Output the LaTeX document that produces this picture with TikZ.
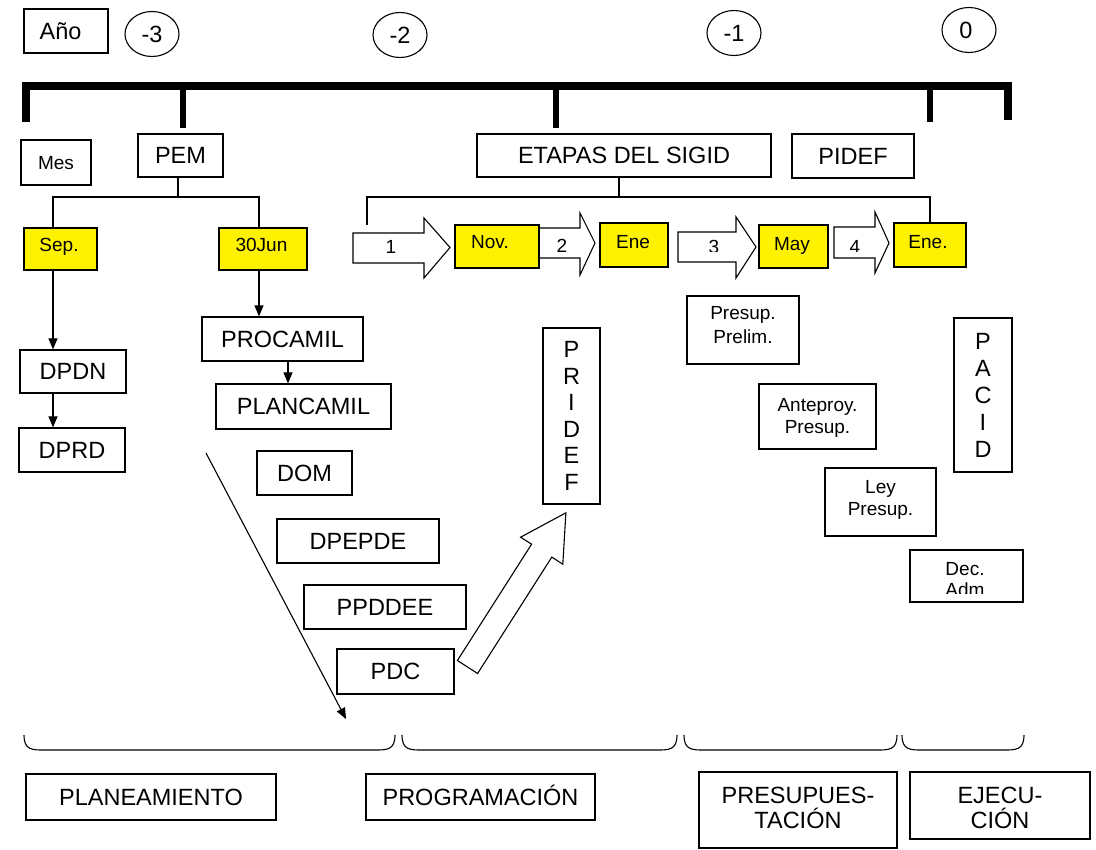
\documentclass[tikz,border=0pt]{standalone}
\usepackage{fontspec}
\setmainfont{Liberation Sans}
\usetikzlibrary{arrows.meta,shapes.geometric}
\newcommand\Fbig{\fontsize{23.5pt}{27pt}\selectfont}
\newcommand\Fsm{\fontsize{19pt}{23pt}\selectfont}
\begin{document}
\begin{tikzpicture}[x=1pt,y=-1pt,
  bx/.style={draw, line width=1.2pt, fill=white, inner sep=0pt},
  yb/.style={bx, fill=yellow},
  big/.style={font=\Fbig, text height=16.8pt, text depth=0pt},
  sm/.style={font=\Fsm, text height=13.6pt, text depth=0pt},
  txt/.style={inner sep=0pt},
  ov/.style={ellipse, draw, line width=1.1pt, minimum width=54pt, minimum height=45pt, inner sep=0pt},
  ln/.style={line width=1.1pt},
  arr/.style={ln, -{Triangle[length=11pt,width=9pt]}},
  blk/.style={draw, line width=1.1pt, fill=white, line join=miter},
  brc/.style={line width=1.1pt},
]
\useasboundingbox (0,0) rectangle (1096,850);

% header
\node[bx, big, minimum width=84pt, minimum height=44pt] (ano) at (66,31) {Año\hspace*{11pt}};
\node[ov, big] (e3) at (152,34) {-3};
\node[ov, big] (e2) at (400,35) {-2};
\node[ov, big] (e1) at (734,33) {-1};
\node[ov, big] (e0) at (969,30) {0\hspace*{6pt}};

% thick bar
\draw[line width=8pt, line join=miter] (26,122) -- (26,86) -- (1008,86) -- (1008,120);
\foreach \x/\b in {182.5/128, 556/128, 930/122} \draw[line width=6pt] (\x,86) -- (\x,\b);

% second row
\node[bx, sm, minimum width=70pt, minimum height=45pt] (mes) at (56,162.5) {Mes};
\node[bx, big, minimum width=85pt, minimum height=43pt] (pem) at (180.5,155.5) {PEM};
\node[bx, big, minimum width=294pt, minimum height=43pt] (etapas) at (624,155.5) {ETAPAS DEL SIGID};
\node[bx, big, minimum width=122pt, minimum height=44pt] (pidef) at (853,156) {PIDEF};

% yellow boxes
\node[yb, minimum width=73pt, minimum height=42pt] (sep) at (60.5,249) {};
\node[txt, sm] (sept) at (59,245) {Sep.};
\node[yb, minimum width=88pt, minimum height=42pt] (jun) at (263,249) {};
\node[txt, sm] (junt) at (261.5,245) {30Jun};

% PEM connectors
\coordinate (pemj) at (178,197);
\coordinate (jl) at (53,197);
\coordinate (jr) at (259,197);
\coordinate (pc) at (288,0);
\draw[ln] (pem.south -| pemj) -- (pemj);
\draw[ln] (sep.north -| jl) |- (jr) -- (jun.north -| jr);

% planning column
\node[bx, big, minimum width=106pt, minimum height=43pt] (dpdn) at (73,371.5) {DPDN};
\node[bx, big, minimum width=106pt, minimum height=44pt] (dprd) at (72,450) {DPRD};
\node[bx, big, minimum width=161pt, minimum height=44pt] (procamil) at (282.5,339) {PROCAMIL};
\node[bx, big, minimum width=175pt, minimum height=45pt] (plancamil) at (303.5,406.5) {PLANCAMIL};
\node[bx, big, minimum width=95pt, minimum height=44pt] (dom) at (304.5,473) {DOM};
\node[bx, big, minimum width=162pt, minimum height=44pt] (dpepde) at (358,541) {DPEPDE};
\node[bx, big, minimum width=162pt, minimum height=44pt] (ppddee) at (385,607) {PPDDEE};
\node[bx, big, minimum width=117pt, minimum height=45pt] (pdc) at (395.5,671.5) {PDC};

\draw[arr] (sep.south -| jl) -- (dpdn.north -| jl);
\draw[arr] (dpdn.south -| jl) -- (dprd.north -| jl);
\draw[arr] (jun.south -| jr) -- (procamil.north -| jr);
\draw[arr] (procamil.south -| pc) -- (plancamil.north -| pc);

\coordinate (d1) at (206,453);
\coordinate (d2) at (346,719);
\draw[arr] (d1) -- (d2);

% block arrows of SIGID
\draw[blk] (353,233) -- (424,233) -- (424,218) -- (450,247.5) -- (424,278) -- (424,263) -- (353,263) -- cycle;
\draw[blk] (539,228) -- (580,228) -- (580,213) -- (595,243) -- (580,275) -- (580,258) -- (539,258) -- cycle;
\draw[blk] (678,232) -- (736,232) -- (736,217) -- (756,247) -- (736,278) -- (736,262) -- (678,262) -- cycle;
\draw[blk] (834,227) -- (875,227) -- (875,212) -- (889,243) -- (875,273) -- (875,258) -- (834,258) -- cycle;
\node[txt, sm] (n1) at (391,247) {1};
\begin{scope}
\clip (540,200) rectangle (900,252);
\node[txt, sm] (n2) at (562,245.5) {2};
\node[txt, sm] (n3) at (714,246.5) {3};
\node[txt, sm] (n4) at (855,246.5) {4};
\end{scope}

\node[yb, minimum width=84pt, minimum height=43pt] (nov) at (497,246.5) {};
\node[txt, sm] (novt) at (490,242) {Nov.};
\node[yb, minimum width=68pt, minimum height=44pt] (ene1) at (634,245) {};
\node[txt, sm] (ene1t) at (633,242) {Ene};
\node[yb, minimum width=69pt, minimum height=43pt] (may) at (793.5,246.5) {};
\node[txt, sm] (mayt) at (792,244) {May};
\node[yb, minimum width=72pt, minimum height=44pt] (ene2) at (930,245) {};
\node[txt, sm] (ene2t) at (928,242) {Ene.};

% SIGID connectors
\coordinate (sj) at (619,197);
\coordinate (sl) at (367,225);
\coordinate (sr) at (930,197);
\draw[ln] (etapas.south -| sj) -- (sj);
\draw[ln] (sl) |- (sr) -- (ene2.north -| sr);

% PRIDEF and big arrow
\node[bx, minimum width=57pt, minimum height=176pt, font=\fontsize{23.5pt}{26.6pt}\selectfont, align=center] (pridef) at (571.5,416) {P\\R\\I\\D\\E\\F};
\draw[blk] (457.4,660.5) -- (531.6,544.2) -- (520.6,537.2) -- (565.9,512.8) -- (562.8,564.2) -- (551.8,557.1) -- (477.6,673.5) -- cycle;

% budget boxes
\node[bx, minimum width=112pt, minimum height=68pt] (pres) at (743,330) {};
\node[txt, font=\fontsize{19pt}{24pt}\selectfont, align=center, text depth=0pt] (prest) at (743,325) {Presup.\\Prelim.};
\node[bx, minimum width=117pt, minimum height=65pt] (antep) at (817.5,416.5) {};
\node[txt, font=\fontsize{19pt}{22pt}\selectfont, align=center, text depth=0pt] (antept) at (817.5,416) {Anteproy.\\Presup.};
\node[bx, minimum width=111pt, minimum height=68pt] (ley) at (880.5,502) {};
\node[txt, font=\fontsize{19pt}{22pt}\selectfont, align=center, text depth=0pt] (leyt) at (880.5,497.5) {Ley\\Presup.};
\node[bx, minimum width=113pt, minimum height=52pt] (dec) at (966.5,576) {};
\begin{scope}
\clip (912,552) rectangle (1021,593);
\node[txt, font=\fontsize{19pt}{21pt}\selectfont, align=center, text depth=0pt] (dect) at (965,579.5) {Dec.\\Adm};
\end{scope}
\node[bx, minimum width=58pt, minimum height=154pt, font=\fontsize{23.5pt}{27pt}\selectfont, align=center] (pacid) at (983,395) {P\\A\\C\\I\\D};

% braces
\foreach \a/\b in {24/395, 402/677, 684/897, 902/1024}
  \draw[brc] (\a,735) .. controls (\a,750) and (\a+8,750) .. (\a+20,750) -- (\b-20,750) .. controls (\b-8,750) and (\b,750) .. (\b,735);

% phase boxes
\node[bx, big, minimum width=250pt, minimum height=46pt] (plan) at (151,797) {PLANEAMIENTO};
\node[bx, big, minimum width=229pt, minimum height=46pt] (prog) at (480.5,797) {PROGRAMACIÓN};
\node[bx, minimum width=198pt, minimum height=76pt] (presu) at (798,810) {};
\node[txt, font=\fontsize{23.5pt}{25pt}\selectfont, align=center, text depth=0pt] (presut) at (798,807.5) {PRESUPUES-\\TACIÓN};
\node[bx, minimum width=180pt, minimum height=67pt] (ejec) at (1000,805.5) {};
\node[txt, font=\fontsize{23.5pt}{25pt}\selectfont, align=center, text depth=0pt] (eject) at (1000,807.5) {EJECU-\\CIÓN};
\end{tikzpicture}
\end{document}
